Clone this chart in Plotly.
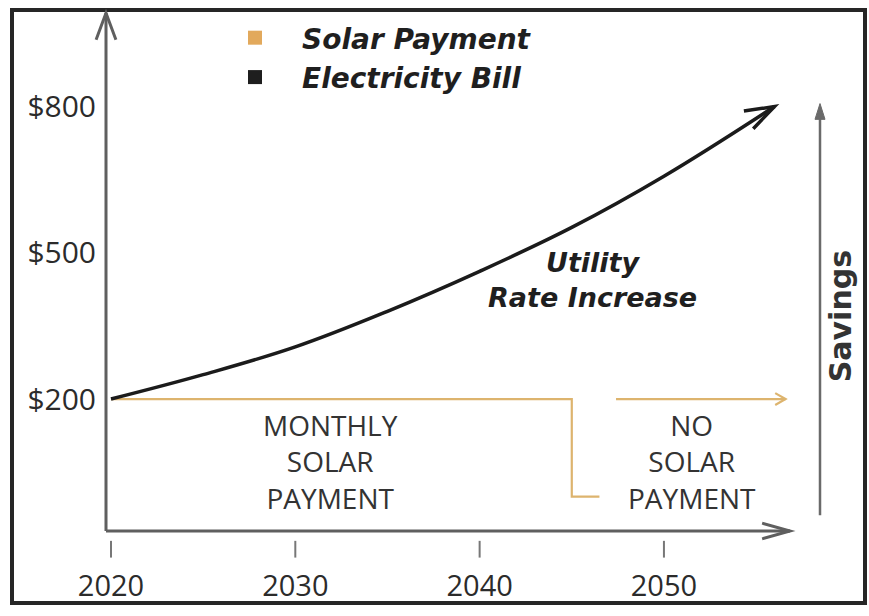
import math
import plotly.graph_objects as go

# ---------------- data ----------------
bill_years = [2020, 2025, 2030, 2035, 2040, 2045, 2050, 2056]
bill_values = [200, 250, 307, 380, 462, 552, 657, 800]

solar_years = [2020, 2045, 2045, 2046.5]
solar_values = [200, 200, 0, 0]

no_pay_years = [2047.4, 2056.6]
no_pay_values = [200, 200]

x_tick_vals = [2020, 2030, 2040, 2050]
x_tick_text = ["2020", "2030", "2040", "2050"]
y_tick_vals = [200, 500, 800]
y_tick_text = ["$200", "$500", "$800"]

# ---------------- layout constants ----------------
FW, FH = 869, 616
L, T, W, H = 106, 12, 750, 527
X0, X1 = 2019.729, 2060.42
Y0, Y1 = -70.7, 993.9

SOLAR = "#DDB46E"
BILL = "#1b1b1b"
AXIS = "#5f5f5f"
TEXT = "#2b2b2b"


def px2paper(px, py):
    return (px - L) / W, (T + H - py) / H


def data2px(x, y):
    return L + (x - X0) / (X1 - X0) * W, T + H - (y - Y0) / (Y1 - Y0) * H


def chevron(tip, back_deg, length, half_deg, color, width):
    tx, ty = tip
    pts = []
    for s in (-1, 1):
        a = math.radians(back_deg + s * half_deg)
        pts.append((tx + length * math.cos(a), ty + length * math.sin(a)))
    p0 = px2paper(*pts[0])
    pt = px2paper(tx, ty)
    p1 = px2paper(*pts[1])
    return dict(type="path", xref="paper", yref="paper",
                path=f"M{p0[0]},{p0[1]} L{pt[0]},{pt[1]} L{p1[0]},{p1[1]}",
                line=dict(color=color, width=width))


def pline(a, b, color, width):
    pa, pb = px2paper(*a), px2paper(*b)
    return dict(type="line", xref="paper", yref="paper",
                x0=pa[0], y0=pa[1], x1=pb[0], y1=pb[1],
                line=dict(color=color, width=width))


fig = go.Figure()

fig.add_trace(go.Scatter(x=solar_years, y=solar_values, mode="lines",
                         line=dict(color=SOLAR, width=2.2, shape="hv"),
                         showlegend=False, hoverinfo="skip"))
fig.add_trace(go.Scatter(x=no_pay_years, y=no_pay_values, mode="lines",
                         line=dict(color=SOLAR, width=2.2),
                         showlegend=False, hoverinfo="skip"))
fig.add_trace(go.Scatter(x=bill_years, y=bill_values, mode="lines",
                         line=dict(color=BILL, width=3.5, shape="spline", smoothing=1.1),
                         showlegend=False, hoverinfo="skip"))

# legend entries
fig.add_trace(go.Scatter(x=[None], y=[None], mode="markers", name="Solar Payment",
                         marker=dict(symbol="square", size=14, color="#E2A95C")))
fig.add_trace(go.Scatter(x=[None], y=[None], mode="markers", name="Electricity Bill",
                         marker=dict(symbol="square", size=14, color="#1e1e1e")))

shapes = []
# outer frame
f0 = px2paper(12, 612)
f1 = px2paper(865, 10)
shapes.append(dict(type="rect", xref="paper", yref="paper",
                   x0=f0[0], y0=f0[1], x1=f1[0], y1=f1[1],
                   line=dict(color="#262626", width=4)))
# axes with open arrowheads
shapes.append(pline((106, 539), (106, 13), AXIS, 3))
shapes.append(chevron((106, 13), 90, 29, 20, AXIS, 3))
shapes.append(pline((106, 539), (790, 539), AXIS, 3))
shapes.append(chevron((790, 539), 180, 29, 16, AXIS, 3))
# tick marks
for xv in x_tick_vals:
    shapes.append(dict(type="line", xref="x", yref="paper", x0=xv, x1=xv,
                       y0=(T + H - 549) / H, y1=(T + H - 566) / H,
                       line=dict(color="#777777", width=2)))
# bill arrow head
tip = data2px(bill_years[-1], bill_values[-1])
prev = data2px(bill_years[-2], bill_values[-2])
back = math.degrees(math.atan2(prev[1] - tip[1], prev[0] - tip[0])) + 5
shapes.append(chevron(tip, back, 31, 19, BILL, 3.5))
# no payment arrow head
tip2 = data2px(no_pay_years[-1], no_pay_values[-1])
shapes.append(chevron(tip2, 180, 12, 30, SOLAR, 2.2))
# savings arrow
shapes.append(pline((820, 523), (820, 120), "#6a6a6a", 2.5))
a = px2paper(820, 105)
b = px2paper(815, 121)
c = px2paper(825, 121)
shapes.append(dict(type="path", xref="paper", yref="paper",
                   path=f"M{a[0]},{a[1]} L{b[0]},{b[1]} L{c[0]},{c[1]} Z",
                   fillcolor="#6a6a6a", line=dict(color="#6a6a6a", width=1)))

annotations = []


def ann(text, px, py, size, family, color=TEXT, bold=False, italic=False, angle=0):
    x, y = px2paper(px, py)
    annotations.append(dict(text=text, x=x, y=y, xref="paper", yref="paper",
                            showarrow=False, xanchor="center", yanchor="middle",
                            textangle=angle,
                            font=dict(size=size, family=family, color=color,
                                      weight="bold" if bold else "normal",
                                      style="italic" if italic else "normal")))


ann("Utility<br>Rate Increase", 592, 284, 27, "DejaVu Sans", "#1f1f1f", bold=True, italic=True)
ann("MONTHLY<br>SOLAR<br>PAYMENT", 330, 468, 28, "Open Sans", "#333333")
ann("NO<br>SOLAR<br>PAYMENT", 692, 468, 28, "Open Sans", "#333333")
ann("Savings", 840, 321, 30, "DejaVu Sans", "#333333", bold=True, angle=-90)

lx, ly = px2paper(208, 13)

fig.update_layout(
    width=FW, height=FH,
    margin=dict(l=L, r=FW - L - W, t=T, b=FH - T - H),
    plot_bgcolor="white", paper_bgcolor="white",
    xaxis=dict(range=[X0, X1], showgrid=False, zeroline=False, showline=False,
               tickmode="array", tickvals=x_tick_vals, ticktext=x_tick_text,
               ticks="", ticklabelstandoff=35,
               tickfont=dict(family="Open Sans", size=29, color=TEXT)),
    yaxis=dict(range=[Y0, Y1], showgrid=False, zeroline=False, showline=False,
               tickmode="array", tickvals=y_tick_vals, ticktext=y_tick_text,
               ticks="", ticklabelstandoff=9,
               tickfont=dict(family="Open Sans", size=30, color=TEXT)),
    legend=dict(x=lx, y=ly, xanchor="left", yanchor="top",
                bgcolor="rgba(0,0,0,0)", itemwidth=84,
                font=dict(family="DejaVu Sans", size=28, color="#1f1f1f",
                          weight="bold", style="italic")),
    shapes=shapes,
    annotations=annotations,
)

fig.write_html("out.html")
